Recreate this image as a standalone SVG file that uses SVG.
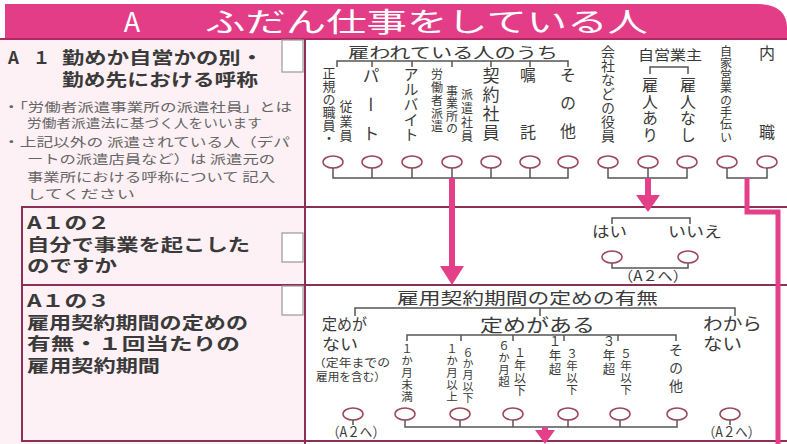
<svg xmlns="http://www.w3.org/2000/svg" width="787" height="444" viewBox="0 0 787 444">
<defs>
<style>
text{font-family:"Noto Sans CJK JP","Noto Sans",sans-serif;fill:#333}
.h{font-weight:bold;font-size:17px;fill:#3a3a3a}
.n{font-size:12.5px;fill:#666}
.t{font-size:15px;fill:#3a3a3a}
.v{writing-mode:vertical-rl;fill:#3a3a3a}
.b{fill:none;stroke:#8c2f55;stroke-width:2}
.box{fill:#fff;stroke:#999;stroke-width:1.2}
.ln{fill:none;stroke:#555;stroke-width:1.5}
.el{fill:#fff;stroke:#9a4a5a;stroke-width:1.5}
.pk{fill:#e4408a}
.pl{fill:none;stroke:#e4408a;stroke-width:5}
</style>
</defs>
<rect x="0" y="0" width="787" height="444" fill="#fff"/>
<rect x="0" y="38" width="305" height="406" fill="#fdf1f5"/>

<g id="header">
<path d="M5 4 H757 Q787 4 787 28 V38 H5 Z" fill="#e33d88"/>
<line x1="0" y1="39" x2="787" y2="39" stroke="#b02a62" stroke-width="2"/>
<text x="132" y="32" text-anchor="middle" style="font-size:27px;fill:#fff">A</text>
<text x="205" y="32" textLength="443" lengthAdjust="spacingAndGlyphs" style="font-size:27px;fill:#fff">ふだん仕事をしている人</text>
</g>

<g id="frame">
<line class="b" x1="305" y1="39" x2="305" y2="444"/>
<rect class="b" x="22" y="207" width="283" height="78" fill="#fcedf2"/>
<rect class="b" x="22" y="285" width="283" height="156" fill="#fcedf2"/>
<line class="b" x1="305" y1="207" x2="787" y2="207" stroke-width="1.5"/>
<line class="b" x1="305" y1="285" x2="787" y2="285" stroke-width="1.5"/>
<line class="b" x1="305" y1="441" x2="787" y2="441" stroke-width="1.5"/>
</g>

<g id="q-a1">
<text class="h"><tspan x="8" y="64">A</tspan><tspan x="33" y="64">１</tspan><tspan x="62" y="64" textLength="201" lengthAdjust="spacingAndGlyphs">勤めか自営かの別・</tspan><tspan x="62" y="86" textLength="196" lengthAdjust="spacingAndGlyphs">勤め先における呼称</tspan></text>
<rect class="box" x="282" y="40" width="21" height="32"/>
<text class="n"><tspan x="3" y="112" textLength="289" lengthAdjust="spacingAndGlyphs">・「労働者派遣事業所の派遣社員」とは</tspan><tspan x="27" y="128" textLength="235" lengthAdjust="spacingAndGlyphs">労働者派遣法に基づく人をいいます</tspan></text>
<text class="n"><tspan x="3" y="147" textLength="287" lengthAdjust="spacingAndGlyphs">・上記以外の 派遣されている人（デパ</tspan><tspan x="27" y="164" textLength="248" lengthAdjust="spacingAndGlyphs">ートの派遣店員など）は 派遣元の</tspan><tspan x="27" y="182" textLength="248" lengthAdjust="spacingAndGlyphs">事業所における呼称について 記入</tspan><tspan x="27" y="199" textLength="108" lengthAdjust="spacingAndGlyphs">してください</tspan></text>
</g>

<g id="q-a1-2">
<text class="h"><tspan x="27" y="229" textLength="83" lengthAdjust="spacingAndGlyphs">A１の２</tspan><tspan x="27" y="251" textLength="223" lengthAdjust="spacingAndGlyphs">自分で事業を起こした</tspan><tspan x="27" y="272" textLength="90" lengthAdjust="spacingAndGlyphs">のですか</tspan></text>
<rect class="box" x="282" y="233" width="21" height="29"/>
</g>

<g id="q-a1-3">
<text class="h"><tspan x="27" y="307" textLength="83" lengthAdjust="spacingAndGlyphs">A１の３</tspan><tspan x="27" y="329" textLength="221" lengthAdjust="spacingAndGlyphs">雇用契約期間の定めの</tspan><tspan x="27" y="350" textLength="213" lengthAdjust="spacingAndGlyphs">有無・１回当たりの</tspan><tspan x="27" y="372" textLength="133" lengthAdjust="spacingAndGlyphs">雇用契約期間</tspan></text>
<rect class="box" x="282" y="286" width="21" height="29"/>
</g>

<g id="a1-options">
<text class="t" x="348" y="58" textLength="210" lengthAdjust="spacingAndGlyphs">雇われている人のうち</text>
<text class="v" x="329" y="67" style="font-size:13px">正規の職員・</text>
<text class="v" x="346" y="100" style="font-size:13px;letter-spacing:1.5px">従業員</text>
<text class="v" x="371" y="67" style="font-size:17px;letter-spacing:12px">パート</text>
<text class="v" x="411" y="67" style="font-size:15px">アルバイト</text>
<text class="v" x="437" y="68" style="font-size:12px;letter-spacing:1px">労働者派遣</text>
<text class="v" x="452" y="85" style="font-size:12px;letter-spacing:0.5px">事業所の</text>
<text class="v" x="467" y="88" style="font-size:12px;letter-spacing:2px">派遣社員</text>
<text class="v" x="491" y="67" style="font-size:17px;letter-spacing:2px">契約社員</text>
<text class="v" x="528" y="67" style="font-size:16px;letter-spacing:41px">嘱託</text>
<text class="v" x="568" y="67" style="font-size:16px;letter-spacing:12px">その他</text>
<text class="v" x="608" y="45" style="font-size:14px">会社などの役員</text>
<text class="t" x="638" y="60" textLength="64" lengthAdjust="spacingAndGlyphs" style="font-size:14px">自営業主</text>
<text class="v" x="650" y="77" style="font-size:16px;letter-spacing:0.5px">雇人あり</text>
<text class="v" x="688" y="77" style="font-size:16px;letter-spacing:0.5px">雇人なし</text>
<text class="v" x="726" y="45" style="font-size:12px;letter-spacing:0.3px">自家営業の手伝い</text>
<text class="v" x="767" y="45" style="font-size:16px;letter-spacing:63px">内職</text>
<ellipse class="el" cx="333" cy="162" rx="10" ry="6"/>
<ellipse class="el" cx="372" cy="162" rx="10" ry="6"/>
<ellipse class="el" cx="412" cy="162" rx="10" ry="6"/>
<ellipse class="el" cx="452" cy="162" rx="10" ry="6"/>
<ellipse class="el" cx="491" cy="162" rx="10" ry="6"/>
<ellipse class="el" cx="530" cy="162" rx="10" ry="6"/>
<ellipse class="el" cx="568" cy="162" rx="10" ry="6"/>
<ellipse class="el" cx="608" cy="162" rx="10" ry="6"/>
<ellipse class="el" cx="648" cy="162" rx="10" ry="6"/>
<ellipse class="el" cx="687" cy="162" rx="10" ry="6"/>
<ellipse class="el" cx="727" cy="162" rx="10" ry="6"/>
<ellipse class="el" cx="767" cy="162" rx="10" ry="6"/>
</g>

<g id="a1-2-options">
<text class="t" x="592" y="237" textLength="35" lengthAdjust="spacingAndGlyphs">はい</text>
<text class="t" x="668" y="237" textLength="54" lengthAdjust="spacingAndGlyphs">いいえ</text>
<ellipse class="el" cx="612" cy="257" rx="10" ry="6"/>
<ellipse class="el" cx="688" cy="257" rx="10" ry="6"/>
<text class="t" x="618" y="281" textLength="70" lengthAdjust="spacingAndGlyphs" style="font-size:14px">（A２へ）</text>
</g>

<g id="a1-3-options">
<text class="t" x="397" y="304" textLength="261" lengthAdjust="spacingAndGlyphs" style="font-size:16px">雇用契約期間の定めの有無</text>
<text class="t" style="font-size:16px"><tspan x="322" y="330" textLength="45" lengthAdjust="spacingAndGlyphs">定めが</tspan><tspan x="322" y="350" textLength="36" lengthAdjust="spacingAndGlyphs">ない</tspan><tspan x="313" y="367" textLength="77" lengthAdjust="spacingAndGlyphs" style="font-size:11px">（定年までの</tspan><tspan x="316" y="381" textLength="70" lengthAdjust="spacingAndGlyphs" style="font-size:11px">雇用を含む）</tspan></text>
<text class="t" x="480" y="332" textLength="115" lengthAdjust="spacingAndGlyphs" style="font-size:18px">定めがある</text>
<text class="v" x="407" y="343" style="font-size:11.5px;letter-spacing:0.4px">１か月未満</text>
<text class="v" x="452" y="343" style="font-size:11.5px;letter-spacing:0.4px">１か月以上</text>
<text class="v" x="468" y="347" style="font-size:11px;letter-spacing:0.4px">６か月以下</text>
<text class="v" x="504" y="340" style="font-size:11.5px;letter-spacing:0.4px">６か月超</text>
<text class="v" x="520" y="347" style="font-size:12px;letter-spacing:0.6px">１年以下</text>
<text class="v" x="555" y="335" style="font-size:12.5px;letter-spacing:1.5px">１年超</text>
<text class="v" x="572" y="348" style="font-size:11.5px;letter-spacing:0.4px">３年以下</text>
<text class="v" x="609" y="335" style="font-size:12.5px;letter-spacing:1.5px">３年超</text>
<text class="v" x="626" y="348" style="font-size:11.5px;letter-spacing:0.4px">５年以下</text>
<text class="v" x="676" y="343" style="font-size:14px;letter-spacing:4px">その他</text>
<text class="t" style="font-size:16.5px"><tspan x="703" y="330" textLength="59" lengthAdjust="spacingAndGlyphs">わから</tspan><tspan x="703" y="350" textLength="39" lengthAdjust="spacingAndGlyphs">ない</tspan></text>
<ellipse class="el" cx="353" cy="414" rx="10" ry="6"/>
<ellipse class="el" cx="405" cy="414" rx="10" ry="6"/>
<ellipse class="el" cx="460" cy="414" rx="10" ry="6"/>
<ellipse class="el" cx="513" cy="414" rx="10" ry="6"/>
<ellipse class="el" cx="568" cy="414" rx="10" ry="6"/>
<ellipse class="el" cx="620" cy="414" rx="10" ry="6"/>
<ellipse class="el" cx="677" cy="414" rx="10" ry="6"/>
<ellipse class="el" cx="730" cy="414" rx="10" ry="6"/>
<text class="t" x="327" y="437" textLength="58" lengthAdjust="spacingAndGlyphs" style="font-size:14px">（A２へ）</text>
<text class="t" x="703" y="437" textLength="57" lengthAdjust="spacingAndGlyphs" style="font-size:14px">（A２へ）</text>
</g>

<g id="connectors">
<path class="ln" d="M337 67 V61 H568 V67 M372 61 V67 M412 61 V67 M452 61 V67 M491 61 V67 M530 61 V67"/>
<path class="ln" d="M650 74 V67 H688 V74"/>
<path class="ln" d="M333 168 V178 H568 V168 M372 168 V178 M412 168 V178 M452 168 V178 M491 168 V178 M530 168 V178"/>
<path class="ln" d="M608 168 V178 H687 V168 M648 168 V178"/>
<path class="ln" d="M727 168 V178 H767 V168"/>
<path class="ln" d="M612 224 V218 H690 V224"/>
<path class="ln" d="M612 263 V268 H688 V263"/>
<path class="ln" d="M355 316 V308 H735 V316 M540 308 V316"/>
<path class="ln" d="M407 341 V335 H676 V341 M461 335 V341 M513 335 V341 M564 335 V341 M618 335 V341"/>
<path class="ln" d="M405 420 V427 H677 V420 M460 420 V427 M513 420 V427 M568 420 V427 M620 420 V427"/>
<path class="ln" d="M353 420 V425 M730 420 V425"/>
<rect class="pk" x="449" y="178" width="6" height="90"/>
<polygon class="pk" points="440,266 464,266 452,285"/>
<rect class="pk" x="645" y="178" width="6" height="19"/>
<polygon class="pk" points="636,195 660,195 648,212"/>
<path class="pl" d="M747 178 V212 H778 V444"/>
<rect class="pk" x="542" y="427" width="6" height="5"/>
<polygon class="pk" points="535,430 555,430 545,444"/>
</g>
</svg>
